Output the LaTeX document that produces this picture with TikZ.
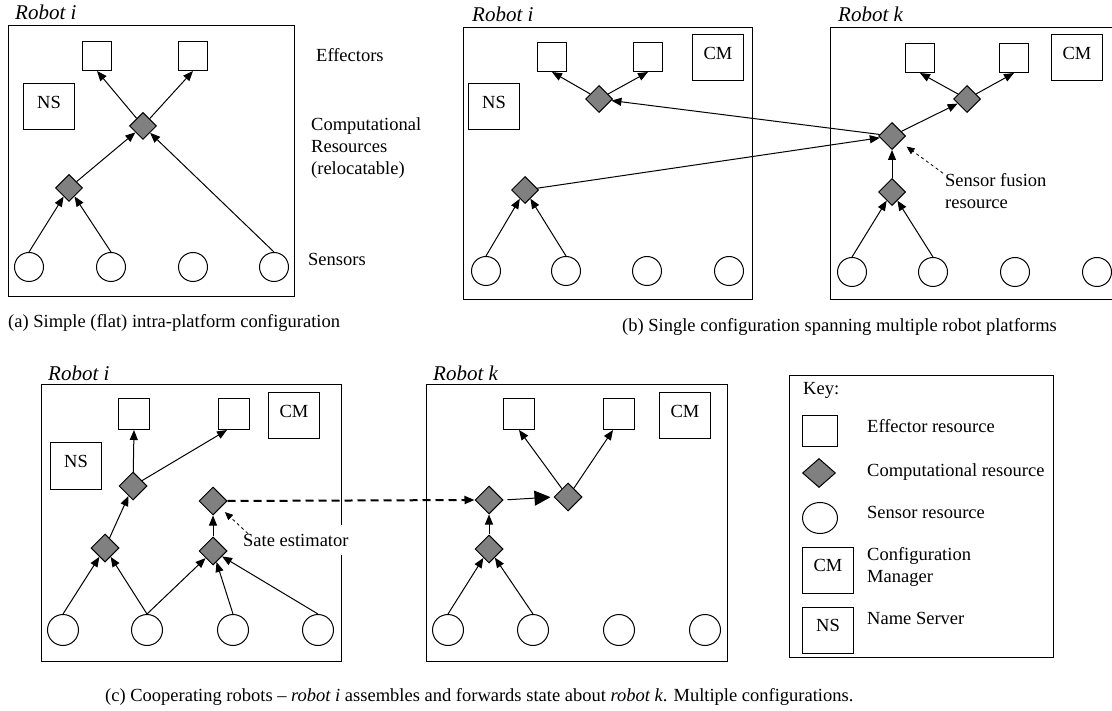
\documentclass[tikz,border=0pt]{standalone}
\usepackage{fontspec}
\setmainfont{Liberation Serif}
\usepackage{xcolor}
\usepackage{tikz}
\usetikzlibrary{positioning,arrows.meta,shapes.geometric}
\definecolor{gris}{HTML}{808080}

\begin{document}
\begin{tikzpicture}[
  x=1pt, y=-1pt,
  font=\fontsize{18.5}{22}\selectfont,
  marco/.style={draw, line width=1pt},
  robot/.style={anchor=base west, inner sep=0pt, font=\fontsize{21}{24}\selectfont\itshape},
  efector/.style={draw, line width=1pt, fill=white, minimum size=29pt, inner sep=0pt},
  caja/.style={draw, line width=1pt, minimum width=51pt, minimum height=46pt, inner sep=0pt, text depth=9pt},
  computo/.style={diamond, draw, line width=1pt, fill=gris, minimum size=27pt, inner sep=0pt},
  sensor/.style={circle, draw, line width=1pt, minimum size=29pt, inner sep=0pt},
  flecha/.style={-{Triangle[length=10pt,width=8pt]}, line width=1pt},
  trazos/.style={-{Triangle[length=8pt,width=7pt]}, dashed, line width=0.8pt},
  etiq/.style={anchor=west, align=left, inner sep=0pt}
]
  \useasboundingbox (0,0) rectangle (1112,711);

  % (a) one platform
  \draw[marco] (8,26) rectangle (294,297);
  \node[robot] (a-rob) at (15,20) {Robot i};
  \node[efector] (a-e1) at (97,56) {};
  \node[efector] (a-e2) at (193,56) {};
  \node[caja] (a-ns) at (49,107) {NS};
  \node[computo] (a-c2) at (143,126) {};
  \node[computo] (a-c1) at (69,188) {};
  \foreach \x [count=\i] in {29,111,193,274}
    \node[sensor] (a-s\i) at (\x,267) {};
  \draw[flecha] (a-s1.north) -- (a-c1);
  \draw[flecha] (a-s2.north) -- (a-c1);
  \draw[flecha] (a-s4.north) -- (a-c2);
  \draw[flecha] (a-c1) -- (a-c2);
  \draw[flecha] (a-c2) -- (a-e1.south);
  \draw[flecha] (a-c2) -- (a-e2.south);
  \node[etiq] (a-lef) at (316,55) {Effectors};
  \node[etiq] (a-lco) at (311,148) {Computational\\Resources\\(relocatable)};
  \node[etiq] (a-lse) at (308,259) {Sensors};
  \node[etiq] (a-cap) at (8,323) {(a) Simple (flat) intra-platform configuration};

  % (b) one configuration over two platforms
  \draw[marco] (463,28) rectangle (752,300);
  \node[robot] (bi-rob) at (472,22) {Robot i};
  \node[efector] (bi-e1) at (552,57) {};
  \node[efector] (bi-e2) at (648,57) {};
  \node[caja] (bi-cm) at (718,58) {CM};
  \node[caja] (bi-ns) at (494,107) {NS};
  \node[computo] (bi-c2) at (599,99) {};
  \node[computo] (bi-c1) at (525,190) {};
  \foreach \x [count=\i] in {486,566,647,729}
    \node[sensor] (bi-s\i) at (\x,271) {};

  \draw[marco] (830,28) rectangle (1120,300);
  \node[robot] (bk-rob) at (838,22) {Robot k};
  \node[efector] (bk-e1) at (920,58) {};
  \node[efector] (bk-e2) at (1014,58) {};
  \node[caja] (bk-cm) at (1077,58) {CM};
  \node[computo] (bk-c3) at (967,99) {};
  \node[computo] (bk-cf) at (892,136) {};
  \node[computo] (bk-c1) at (892,192) {};
  \foreach \x [count=\i] in {852,933,1015,1097}
    \node[sensor] (bk-s\i) at (\x,272) {};

  \draw[flecha] (bi-s1.north) -- (bi-c1);
  \draw[flecha] (bi-s2.north) -- (bi-c1);
  \draw[flecha] (bi-c1) -- (bk-cf);
  \draw[flecha] (bk-cf) -- (bi-c2);
  \draw[flecha] (bi-c2) -- (bi-e1.south);
  \draw[flecha] (bi-c2) -- (bi-e2.south);
  \draw[flecha] (bk-s1.north) -- (bk-c1);
  \draw[flecha] (bk-s2.north) -- (bk-c1);
  \draw[flecha] (bk-c1) -- (bk-cf);
  \draw[flecha] (bk-cf) -- (bk-c3);
  \draw[flecha] (bk-c3) -- (bk-e1.south);
  \draw[flecha] (bk-c3) -- (bk-e2.south);
  \node[etiq] (bk-lfu) at (945,191) {Sensor fusion\\resource};
  \draw[trazos, shorten >=8pt] ([xshift=-2pt]bk-lfu.north west) -- (bk-cf);
  \node[etiq] (b-cap) at (622,327) {(b) Single configuration spanning multiple robot platforms};

  % (c) two cooperating platforms
  \draw[marco] (41,385) rectangle (341,661);
  \node[robot] (ci-rob) at (48,381) {Robot i};
  \node[efector, minimum size=31pt] (ci-e1) at (134,414) {};
  \node[efector, minimum size=31pt] (ci-e2) at (234,414) {};
  \node[caja] (ci-cm) at (294,416) {CM};
  \node[caja] (ci-ns) at (76,466) {NS};
  \node[computo, minimum size=28pt] (ci-c1) at (133,486) {};
  \node[computo, minimum size=28pt] (ci-c2) at (213,501) {};
  \node[computo, minimum size=28pt] (ci-c3) at (105,548) {};
  \node[computo, minimum size=28pt] (ci-c4) at (213,551) {};
  \foreach \x [count=\i] in {63,147,233,318}
    \node[sensor, minimum size=31pt] (ci-s\i) at (\x,630) {};
  \draw[flecha] (ci-s1.north) -- (ci-c3);
  \draw[flecha] (ci-s2.north) -- (ci-c3);
  \draw[flecha] (ci-s2.north) -- (ci-c4);
  \draw[flecha] (ci-s3.north) -- (ci-c4);
  \draw[flecha] (ci-s4.north) -- (ci-c4);
  \draw[flecha] (ci-c4) -- (ci-c2);
  \draw[flecha] (ci-c3) -- (ci-c1);
  \draw[flecha] (ci-c1) -- (ci-e1.south);
  \draw[flecha] (ci-c1) -- ([xshift=-7pt]ci-e2.south);
  \node[etiq, fill=white, inner ysep=9pt] (ci-lse) at (243,540) {Sate estimator};
  \draw[trazos, shorten >=6pt] ([xshift=5pt,yshift=-9pt]ci-lse.north west) -- (ci-c2);

  \draw[marco] (426,385) rectangle (727,661);
  \node[robot] (ck-rob) at (433,381) {Robot k};
  \node[efector, minimum size=31pt] (ck-e1) at (519,414) {};
  \node[efector, minimum size=31pt] (ck-e2) at (619,414) {};
  \node[caja] (ck-cm) at (685,416) {CM};
  \node[computo, minimum size=28pt] (ck-c1) at (489,500) {};
  \node[computo, minimum size=28pt] (ck-c2) at (568,497) {};
  \node[computo, minimum size=28pt] (ck-c3) at (489,549) {};
  \foreach \x [count=\i] in {448,533,619,705}
    \node[sensor, minimum size=31pt] (ck-s\i) at (\x,630) {};
  \draw[flecha] (ck-s1.north) -- (ck-c3);
  \draw[flecha] (ck-s2.north) -- (ck-c3);
  \draw[flecha] (ck-c3) -- (ck-c1);
  \draw[line width=1pt, -{Triangle[length=16pt,width=15pt]}, shorten <=4pt, shorten >=3pt]
    (ck-c1.east) -- (ck-c2.west);
  \draw[flecha] (ck-c2) -- (ck-e1.south);
  \draw[flecha] (ck-c2) -- ([xshift=-6pt]ck-e2.south);
  \draw[flecha, line width=2pt, dash pattern=on 8pt off 5pt] (ci-c2.east) -- (ck-c1.west);

  % key
  \draw[marco] (789,376) rectangle (1053,657);
  \node[etiq] (key) at (803,390) {Key:};
  \node[efector, minimum width=35pt, minimum height=31pt] (key-ef) at (820,431) {};
  \node[computo, minimum width=33pt, minimum height=29pt] (key-co) at (819,473) {};
  \node[ellipse, draw, line width=1pt, minimum width=35pt, minimum height=31pt, inner sep=0pt] (key-se) at (820,518) {};
  \node[caja] (key-cm) at (828,570) {CM};
  \node[caja] (key-ns) at (828,630) {NS};
  \node[etiq] (key-lef) at (867,426) {Effector resource};
  \node[etiq] (key-lco) at (867,472) {Computational resource};
  \node[etiq] (key-lse) at (867,512) {Sensor resource};
  \node[etiq] (key-lcm) at (867,567) {Configuration\\Manager};
  \node[etiq] (key-lns) at (867,618) {Name Server};

  \node[etiq] (c-cap) at (105,697) {(c) Cooperating robots -- \textit{robot i} assembles and forwards state about \textit{robot k}. Multiple configurations.};
\end{tikzpicture}
\end{document}
